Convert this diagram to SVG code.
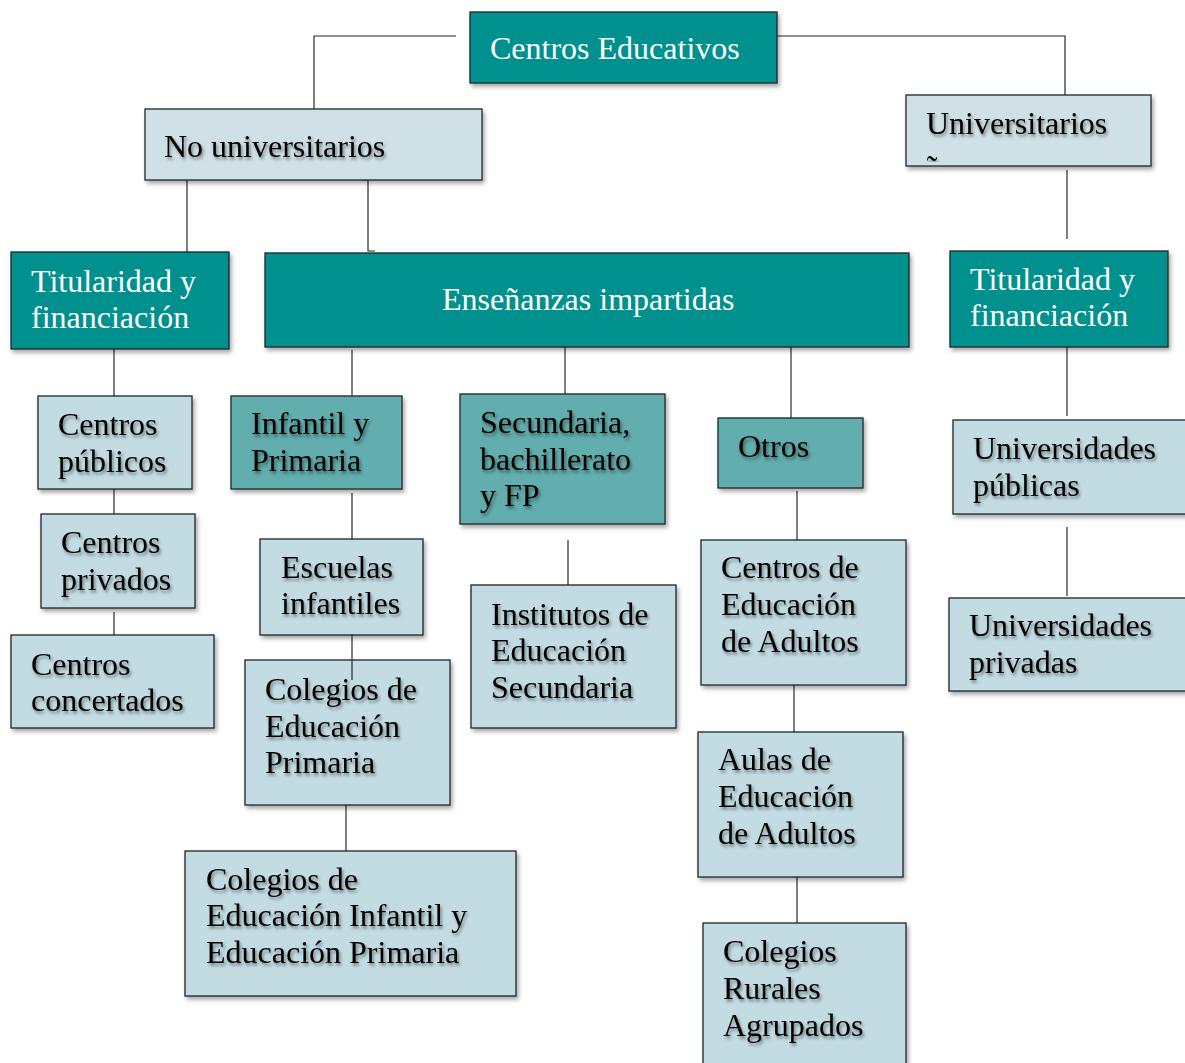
<svg xmlns="http://www.w3.org/2000/svg" width="1185" height="1063" viewBox="0 0 1185 1063">
<defs>
<style>
.box{stroke:#1e2628;stroke-width:1.3;filter:url(#bs)}
.dark{fill:#00918f}
.mid{fill:#62adad}
.light{fill:#c3dce3}
.pale{fill:#cfe1e7}
.t{font-family:"Liberation Serif","Times New Roman",serif;font-size:32px}
.w{fill:#ffffff}
.b{fill:#000000;filter:url(#ts)}
.c{stroke:#2a2a2a;stroke-width:1.2;fill:none}
</style>
<filter id="bs" x="-10%" y="-10%" width="125%" height="130%">
<feDropShadow dx="2" dy="3" stdDeviation="2" flood-color="#000" flood-opacity="0.35"/>
</filter>
<filter id="ts" x="-10%" y="-20%" width="125%" height="150%">
<feDropShadow dx="1.5" dy="2.5" stdDeviation="1.8" flood-color="#000" flood-opacity="0.45"/>
</filter>
<clipPath id="uclip"><rect x="906" y="95" width="245" height="67"/></clipPath>
</defs>
<rect width="1185" height="1063" fill="#ffffff"/>

<g id="connectors">
<path class="c" d="M456,36 H314 V109"/>
<path class="c" d="M777,36 H1065 V95"/>
<path class="c" d="M187,180 V252"/>
<path class="c" d="M362,180 H368 V251 H375"/>
<path class="c" d="M1067,170 V239"/>
<path class="c" d="M114,349 V396"/>
<path class="c" d="M114,489 V514"/>
<path class="c" d="M114,612 V635"/>
<path class="c" d="M352,350 V396"/>
<path class="c" d="M565,347 V394"/>
<path class="c" d="M791,347 V418"/>
<path class="c" d="M352,493 V539"/>
<path class="c" d="M346,805 V851"/>
<path class="c" d="M568,540 V586"/>
<path class="c" d="M797,491 V540"/>
<path class="c" d="M794,684 V732"/>
<path class="c" d="M797,877 V925"/>
<path class="c" d="M1067,347 V416"/>
<path class="c" d="M1067,527 V596"/>
</g>

<g id="centros-educativos">
<rect class="box dark" x="470" y="12" width="307" height="71"/>
<text class="t w" x="490" y="59">Centros Educativos</text>
</g>

<g id="no-universitarios">
<rect class="box pale" x="145" y="109" width="337" height="71"/>
<text class="t b" x="164" y="157">No universitarios</text>
</g>

<g id="universitarios">
<rect class="box pale" x="906" y="95" width="245" height="71"/>
<text class="t b" x="926" y="134">Universitarios</text>
<text class="t b" x="924" y="178" clip-path="url(#uclip)">ñ</text>
</g>

<g id="titularidad-izq">
<rect class="box dark" x="11" y="252" width="218" height="97"/>
<text class="t w" x="31" y="292">Titularidad y</text>
<text class="t w" x="31" y="328">financiación</text>
</g>

<g id="ensenanzas">
<rect class="box dark" x="265" y="253" width="644" height="94"/>
<text class="t w" x="442" y="310">Enseñanzas impartidas</text>
</g>

<g id="titularidad-der">
<rect class="box dark" x="950" y="251" width="218" height="96"/>
<text class="t w" x="970" y="290">Titularidad y</text>
<text class="t w" x="970" y="326">financiación</text>
</g>

<g id="centros-publicos">
<rect class="box light" x="38" y="396" width="154" height="93"/>
<text class="t b" x="58" y="435">Centros</text>
<text class="t b" x="58" y="472">públicos</text>
</g>

<g id="centros-privados">
<rect class="box light" x="41" y="514" width="154" height="94"/>
<text class="t b" x="61" y="553">Centros</text>
<text class="t b" x="61" y="590">privados</text>
</g>

<g id="centros-concertados">
<rect class="box light" x="11" y="635" width="203" height="93"/>
<text class="t b" x="31" y="675">Centros</text>
<text class="t b" x="31" y="711">concertados</text>
</g>

<g id="infantil-primaria">
<rect class="box mid" x="231" y="396" width="171" height="93"/>
<text class="t b" x="251" y="434">Infantil y</text>
<text class="t b" x="251" y="471">Primaria</text>
</g>

<g id="secundaria">
<rect class="box mid" x="460" y="394" width="205" height="130"/>
<text class="t b" x="480" y="433">Secundaria,</text>
<text class="t b" x="480" y="470">bachillerato</text>
<text class="t b" x="480" y="506">y FP</text>
</g>

<g id="otros">
<rect class="box mid" x="718" y="418" width="145" height="70"/>
<text class="t b" x="738" y="457">Otros</text>
</g>

<g id="escuelas-infantiles">
<rect class="box light" x="260" y="539" width="163" height="96"/>
<text class="t b" x="281" y="578">Escuelas</text>
<text class="t b" x="281" y="614">infantiles</text>
</g>

<g id="colegios-primaria">
<rect class="box light" x="245" y="660" width="205" height="145"/>
<text class="t b" x="265" y="700">Colegios de</text>
<text class="t b" x="265" y="737">Educación</text>
<text class="t b" x="265" y="773">Primaria</text>
</g>
<path class="c" d="M352,634 V680"/>

<g id="colegios-infantil-primaria">
<rect class="box light" x="185" y="851" width="331" height="145"/>
<text class="t b" x="206" y="890">Colegios de</text>
<text class="t b" x="206" y="926">Educación Infantil y</text>
<text class="t b" x="206" y="963">Educación Primaria</text>
</g>

<g id="institutos">
<rect class="box light" x="471" y="585" width="205" height="143"/>
<text class="t b" x="491" y="625">Institutos de</text>
<text class="t b" x="491" y="661">Educación</text>
<text class="t b" x="491" y="698">Secundaria</text>
</g>

<g id="centros-adultos">
<rect class="box light" x="701" y="540" width="205" height="145"/>
<text class="t b" x="721" y="578">Centros de</text>
<text class="t b" x="721" y="615">Educación</text>
<text class="t b" x="721" y="652">de Adultos</text>
</g>

<g id="aulas-adultos">
<rect class="box light" x="698" y="732" width="205" height="145"/>
<text class="t b" x="718" y="770">Aulas de</text>
<text class="t b" x="718" y="807">Educación</text>
<text class="t b" x="718" y="844">de Adultos</text>
</g>

<g id="colegios-rurales">
<rect class="box light" x="703" y="923" width="203" height="150"/>
<text class="t b" x="723" y="962">Colegios</text>
<text class="t b" x="723" y="999">Rurales</text>
<text class="t b" x="723" y="1036">Agrupados</text>
</g>

<g id="universidades-publicas">
<rect class="box light" x="953" y="420" width="240" height="94"/>
<text class="t b" x="973" y="459">Universidades</text>
<text class="t b" x="973" y="496">públicas</text>
</g>

<g id="universidades-privadas">
<rect class="box light" x="949" y="598" width="244" height="93"/>
<text class="t b" x="969" y="636">Universidades</text>
<text class="t b" x="969" y="673">privadas</text>
</g>
</svg>
